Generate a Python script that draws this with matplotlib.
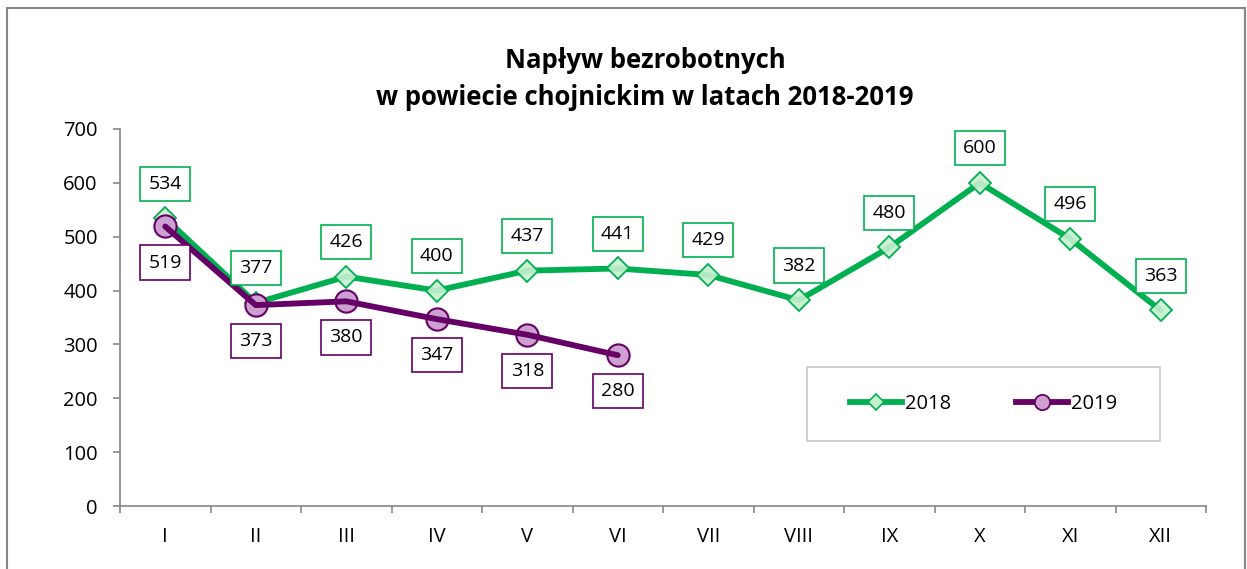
import matplotlib
matplotlib.use("Agg")
import matplotlib.pyplot as plt
from matplotlib.patches import Rectangle
from matplotlib.lines import Line2D
from matplotlib.ticker import FixedLocator

plt.rcParams['font.family'] = ['Open Sans', 'DejaVu Sans']

months = ["I", "II", "III", "IV", "V", "VI", "VII", "VIII", "IX", "X", "XI", "XII"]
v2018 = [534, 377, 426, 400, 437, 441, 429, 382, 480, 600, 496, 363]
v2019 = [519, 373, 380, 347, 318, 280]
title = "Napływ bezrobotnych\nw powiecie chojnickim w latach 2018-2019"

green = "#00b050"
purple = "#660066"
gray = "#868686"

W, H = 1247, 569
fig = plt.figure(figsize=(W / 100, H / 100), dpi=100)
ax = fig.add_axes([120 / W, 1 - 506 / H, (1206 - 120) / W, (506 - 129) / H])

x18 = list(range(len(v2018)))
x19 = list(range(len(v2019)))

ax.plot(x18, v2018, color=green, lw=4.2, solid_capstyle='round', zorder=3)
ax.plot(x18, v2018, ls='none', marker='D', ms=11.5, mfc=(0.78, 0.94, 0.82, 0.9),
        mec=green, mew=1.3, zorder=4)
ax.plot(x19, v2019, ls='none', marker='o', ms=16, mfc=(0.80, 0.63, 0.82, 1.0),
        mec=purple, mew=1.5, zorder=5)
ax.plot(x19, v2019, color=purple, lw=4.2, solid_capstyle='round', zorder=6)

for xi, v in zip(x18, v2018):
    ax.annotate(str(v), (xi, v), xytext=(0, 25), textcoords='offset points',
                ha='center', va='center', fontsize=14, zorder=7,
                bbox=dict(boxstyle='square,pad=0.42', fc='white', ec=green, lw=1.2))
for xi, v in zip(x19, v2019):
    ax.annotate(str(v), (xi, v), xytext=(0, -26), textcoords='offset points',
                ha='center', va='center', fontsize=14, zorder=7,
                bbox=dict(boxstyle='square,pad=0.42', fc='white', ec=purple, lw=1.2))

ax.set_xlim(-0.5, len(months) - 0.5)
ax.set_ylim(0, 700)
ax.set_yticks(range(0, 701, 100))
ax.set_xticks(x18)
ax.set_xticklabels(months)
ax.xaxis.set_minor_locator(FixedLocator([i - 0.5 for i in range(len(months) + 1)]))
ax.tick_params(axis='x', which='major', length=0, pad=15, labelsize=14.5)
ax.tick_params(axis='x', which='minor', length=5, width=1.2, color=gray, direction='out')
ax.tick_params(axis='y', length=5, width=1.2, color=gray, labelsize=14.5, pad=11)
for s in ['top', 'right']:
    ax.spines[s].set_visible(False)
for s in ['left', 'bottom']:
    ax.spines[s].set_color(gray)
    ax.spines[s].set_linewidth(1.2)

fig.text(645 / W, 1 - 79 / H, title, ha='center', va='center', fontsize=18.5,
         fontweight='bold', linespacing=1.5)

# outer frame
fig.patches.append(Rectangle((7 / W, -0.05), (1245 - 7) / W, 1.05 - 8 / H,
                             transform=fig.transFigure, fill=False, ec=gray, lw=1.5))

# legend
lx0, ly0, lx1, ly1 = 807, 367, 1160, 441
fig.patches.append(Rectangle((lx0 / W, 1 - ly1 / H), (lx1 - lx0) / W, (ly1 - ly0) / H,
                             transform=fig.transFigure, fill=False, ec="#c8c8c8", lw=1.2))
h1 = Line2D([], [], color=green, lw=4.2, marker='D', ms=8, mfc=(0.78, 0.94, 0.82),
            mec=green, mew=1.2)
h2 = Line2D([], [], color=purple, lw=4.2, marker='o', ms=11, mfc=(0.80, 0.63, 0.82),
            mec=purple, mew=1.3)
fig.legend([h1, h2], ["2018", "2019"], loc='center', ncol=2, frameon=False,
           bbox_to_anchor=((lx0 + lx1) / 2 / W, 1 - (ly0 + ly1) / 2 / H),
           fontsize=14.5, handlelength=2.6, columnspacing=3.2, handletextpad=0.15)

fig.savefig("out.png", dpi=100)
